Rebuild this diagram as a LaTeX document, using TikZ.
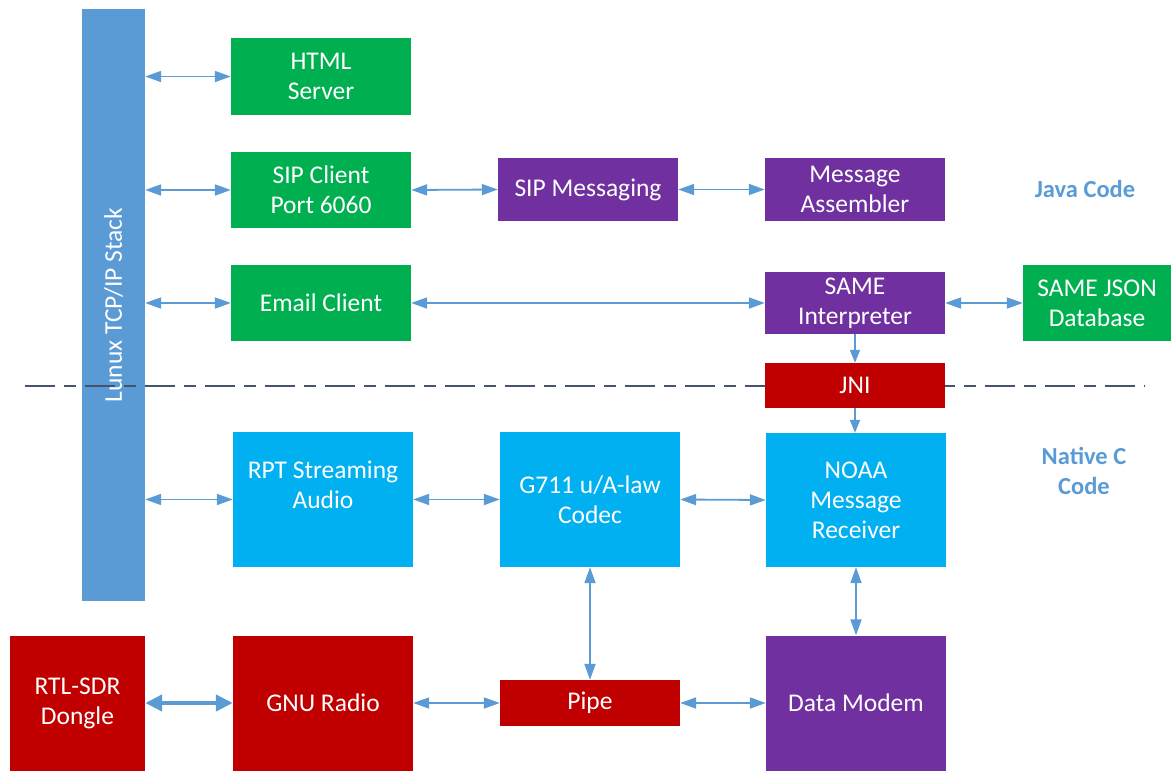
\documentclass[tikz,border=0pt]{standalone}
\usepackage{fontspec}
\setmainfont{Carlito}
\usetikzlibrary{arrows.meta, positioning}

\definecolor{javagreen}{HTML}{00B050}
\definecolor{javapurple}{HTML}{7030A0}
\definecolor{nativered}{HTML}{C00000}
\definecolor{nativeblue}{HTML}{00B0F0}
\definecolor{stackblue}{HTML}{5B9BD5}
\definecolor{linkblue}{HTML}{5B9BD5}
\definecolor{dividergray}{HTML}{44546A}

\tikzstyle{block} = [rectangle, inner sep=0pt, minimum width=180pt, text=white, align=center, font=\fontsize{25.5}{30}\selectfont]
\tikzstyle{arrow} = [line width=1.8pt, linkblue, {Triangle[length=16pt,width=11pt]}-{Triangle[length=16pt,width=11pt]}]
\tikzstyle{oneway} = [line width=1.8pt, linkblue, -{Triangle[length=13pt,width=10pt]}]
\tikzstyle{fatarrow} = [line width=4.5pt, linkblue, {Triangle[length=17pt,width=16pt]}-{Triangle[length=17pt,width=16pt]}]
\tikzstyle{codelabel} = [align=center, text=linkblue, font=\fontsize{24.5}{30}\selectfont\bfseries]

\begin{document}
\begin{tikzpicture}[x=1pt, y=-1pt]

    \useasboundingbox (0,0) rectangle (1171,771);

    % Stack
    \node[block, fill=stackblue, minimum width=63pt, minimum height=592pt] (Stack) at (113.5,305) {\rotatebox{90}{Lunux TCP/IP Stack}};

    % Java / native divider
    \coordinate (DivL) at (25,386);
    \coordinate (DivR) at (1145,386);
    \draw[dividergray, line width=2pt, dash pattern=on 30pt off 9pt on 12pt off 9pt] (DivL) -- (DivR);

    % Java side
    \node[block, fill=javagreen, minimum height=77pt] (HtmlServer) at (321,76.5) {HTML\\Server};
    \node[block, fill=javagreen, minimum height=76pt] (SipClient) at (321,190) {SIP Client\\Port 6060};
    \node[block, fill=javagreen, minimum height=76pt] (EmailClient) at (321,303) {Email Client};
    \node[block, fill=javapurple, minimum height=63pt] (SipMessaging) at (588,189.5) {SIP Messaging};
    \node[block, fill=javapurple, minimum height=63pt] (MsgAssembler) at (855,189.5) {Message\\Assembler};
    \node[block, fill=javapurple, minimum height=62pt] (SameInterp) at (855,303) {SAME\\Interpreter};
    \node[block, fill=javagreen, minimum width=148pt, minimum height=76pt] (SameDb) at (1097,303) {SAME JSON\\Database};
    \node[block, fill=nativered, minimum height=45pt] (Jni) at (855,385.5) {JNI};

    % Native side
    \node[block, fill=nativeblue, minimum height=135pt] (RptAudio) at (323,499.5) {RPT Streaming\\Audio\\~};
    \node[block, fill=nativeblue, minimum height=135pt] (G711) at (590,499.5) {G711 u/A-law\\Codec};
    \node[block, fill=nativeblue, minimum height=134pt] (NoaaRx) at (856,500) {NOAA\\Message\\Receiver};
    \node[block, fill=nativered, minimum width=135pt, minimum height=135pt] (RtlSdr) at (77.5,703) {RTL-SDR\\Dongle};
    \node[block, fill=nativered, minimum height=135pt] (GnuRadio) at (323,703) {GNU Radio};
    \node[block, fill=nativered, minimum height=46pt] (Pipe) at (590,703) {Pipe};
    \node[block, fill=javapurple, minimum height=135pt] (DataModem) at (856,703) {Data Modem};

    % Labels
    \node[codelabel] (JavaLbl) at (1085,189) {Java Code};
    \node[codelabel] (NativeLbl) at (1084,471) {Native C\\Code};

    % Links
    \draw[arrow] (Stack.east |- HtmlServer.west) -- (HtmlServer.west);
    \draw[arrow] (Stack.east |- SipClient.west) -- (SipClient.west);
    \draw[arrow] (Stack.east |- EmailClient.west) -- (EmailClient.west);
    \draw[arrow] (Stack.east |- RptAudio.west) -- (RptAudio.west);
    \draw[arrow] (SipClient.east) -- (SipMessaging.west);
    \draw[arrow] (SipMessaging.east) -- (MsgAssembler.west);
    \draw[arrow] (EmailClient.east) -- (SameInterp.west);
    \draw[arrow] (SameInterp.east) -- (SameDb.west);
    \draw[oneway] (SameInterp.south) -- (Jni.north);
    \draw[oneway] (Jni.south) -- (Jni.south |- NoaaRx.north);
    \draw[arrow] (RptAudio.east) -- (G711.west);
    \draw[arrow] (G711.east) -- (NoaaRx.west);
    \draw[arrow] (G711.south) -- (Pipe.north);
    \draw[arrow] (NoaaRx.south) -- (DataModem.north);
    \draw[fatarrow] (RtlSdr.east) -- (GnuRadio.west);
    \draw[arrow] (GnuRadio.east) -- (Pipe.west);
    \draw[arrow] (Pipe.east) -- (DataModem.west);

\end{tikzpicture}
\end{document}
